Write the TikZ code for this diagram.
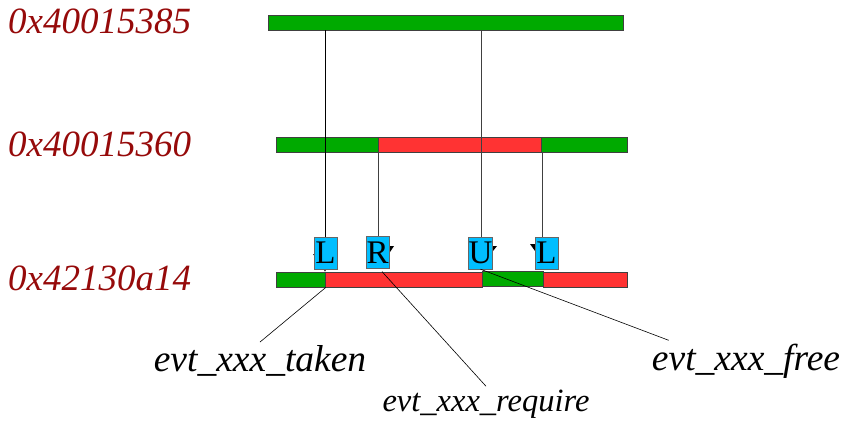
\documentclass[tikz,border=0pt]{standalone}
\usepackage{fontspec}
\setmainfont{Liberation Serif}
\usepackage{xcolor}
\usetikzlibrary{positioning,calc,arrows.meta}

\definecolor{okgreen}{RGB}{0,170,0}
\definecolor{busyred}{RGB}{255,51,51}
\definecolor{tagblue}{RGB}{0,190,255}
\definecolor{addrred}{RGB}{150,10,10}

\begin{document}
\begin{tikzpicture}[x=1pt,y=-1pt,
		seg/.style={draw=black!75, line width=0.8pt, minimum height=15pt, inner sep=0pt, anchor=west},
		tag/.style={draw=black!60, fill=tagblue, minimum width=23pt, minimum height=32pt, inner sep=0pt,
		font=\fontsize{33}{33}\selectfont},
		addr/.style={anchor=west, inner sep=0pt, text=addrred, font=\fontsize{37}{40}\selectfont\itshape},
		evt/.style={font=\fontsize{37.5}{40}\selectfont\itshape},
		wire/.style={black!75, line width=0.8pt},
		nib/.style={fill=black}]
		\useasboundingbox (0,0) rectangle (842,423);
		% addresses
		\node[addr] (addrA) at (8,21) {0x40015385};
		\node[addr] (addrB) at (8,144) {0x40015360};
		\node[addr] (addrC) at (8,278) {0x42130a14};
		% top bar
		\node[seg, fill=okgreen, minimum width=355pt] (b1) at (268,22.5) {};
		% middle bar
		\node[seg, fill=okgreen, minimum width=102pt] (b2a) at (276,144.5) {};
		\node[seg, fill=busyred, minimum width=163pt] (b2b) at (378,144.5) {};
		\node[seg, fill=okgreen, minimum width=86pt] (b2c) at (541,144.5) {};
		% bottom bar
		\node[seg, fill=okgreen, minimum width=49pt] (b3a) at (276,279.5) {};
		\node[seg, fill=busyred, minimum width=157pt] (b3b) at (325,279.5) {};
		\node[seg, fill=okgreen, minimum width=61pt] (b3c) at (482,278.5) {};
		\node[seg, fill=busyred, minimum width=84pt] (b3d) at (543,279.5) {};
		% vertical links
		\coordinate (lA) at (325,253);
		\coordinate (lR) at (378,253);
		\coordinate (lU) at (481,253);
		\coordinate (lB) at (542,253);
		\draw[wire, black, -{Triangle[length=6pt,width=6pt]}] (lA |- b1.south) -- (lA |- b3b.north);
		\draw[wire] (lU |- b1.south) -- (lU);
		\draw[wire] (lR |- b2b.south) -- (lR);
		\draw[wire] (lB |- b2c.south) -- (lB);
		% small tips beside the tags
		\fill[nib] (313,254) -- (318,254) -- (317,260) -- cycle;
		\fill[nib] (388,246) -- (394,246) -- (390,252) -- cycle;
		\fill[nib] (491,246) -- (497,246) -- (493,251) -- cycle;
		\fill[nib] (530,244) -- (536,244) -- (535,251) -- cycle;
		% tags
		\node[tag] (tL1) at (325.5,253) {L};
		\node[tag] (tR) at (377.5,252.5) {R};
		\node[tag] (tU) at (480.5,253) {U};
		\node[tag] (tL2) at (546.5,253) {L};
		% events
		\node[evt] (taken) at (260,361) {evt\_xxx\_taken};
		\node[evt, font=\fontsize{32.5}{34}\selectfont\itshape] (require) at (486,404) {evt\_xxx\_require};
		\node[evt] (free) at (746,361) {evt\_xxx\_free};
		\draw[black, line width=0.6pt] (b3a.south east) -- (taken.north);
		\draw[black, line width=0.6pt] ($(b3b.north west)+(57,0)$) -- (require.north);
		\draw[black, line width=0.6pt] (tU.south) -- (free.165);
\end{tikzpicture}
\end{document}
